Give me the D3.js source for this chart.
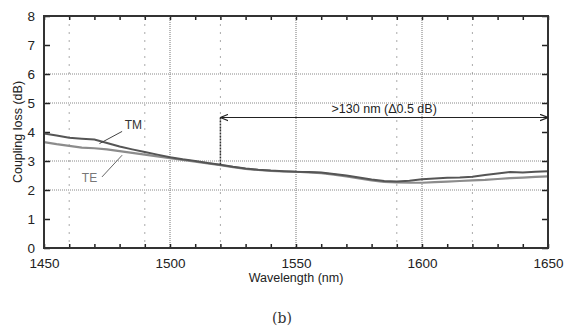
<!DOCTYPE html>
<html>
<head>
<meta charset="utf-8">
<script src="https://cdn.jsdelivr.net/npm/d3@7"></script>
<style>
  body { margin: 0; background: #fff; }
  svg { display: block; font-family: "Liberation Sans", Arial, sans-serif; }
</style>
</head>
<body>
<svg id="chart" width="564" height="329"></svg>
<script>
// wavelength samples (nm)
const wavelengths = [1450,1455,1460,1465,1470,1475,1480,1485,1490,1495,1500,1505,1510,1515,1520,1525,1530,1535,1540,1545,1550,
  1555,1560,1565,1570,1575,1580,1585,1590,1595,1600,1605,1610,1615,1620,1625,1630,1635,1640,1645,1650];
// coupling loss (dB)
const tmLoss = [3.95,3.88,3.80,3.77,3.74,3.62,3.50,3.40,3.31,3.22,3.13,3.06,3.00,2.93,2.87,2.80,2.74,2.70,2.67,2.65,2.63,
  2.62,2.60,2.55,2.50,2.43,2.36,2.31,2.29,2.32,2.37,2.40,2.42,2.43,2.46,2.52,2.57,2.62,2.60,2.63,2.65];
const teLoss = [3.65,3.58,3.52,3.46,3.44,3.40,3.34,3.28,3.22,3.16,3.10,3.04,2.98,2.92,2.86,2.79,2.73,2.69,2.66,2.64,2.63,
  2.61,2.58,2.53,2.47,2.40,2.33,2.28,2.26,2.25,2.25,2.27,2.29,2.31,2.33,2.35,2.38,2.41,2.43,2.45,2.47];
const xTicks = [1450, 1500, 1550, 1600, 1650];
const yTicks = [0, 1, 2, 3, 4, 5, 6, 7, 8];
const xGrid = [1460, 1490, 1500, 1520, 1550, 1590, 1600, 1620];
const yGrid = [2, 3, 5, 6];
const spanStart = 1520, spanEnd = 1650, spanLevel = 4.5;
const spanText = '>130 nm (\u03940.5 dB)';

const margin = { top: 16, right: 16, bottom: 81, left: 44 };
const width = 564, height = 329;
const w = width - margin.left - margin.right;
const h = height - margin.top - margin.bottom;

const svg = d3.select('#chart');
const g = svg.append('g').attr('transform', `translate(${margin.left},${margin.top})`);

const x = d3.scaleLinear().domain([1450, 1650]).range([0, w]);
const y = d3.scaleLinear().domain([0, 8]).range([h, 0]);

// grid
g.append('g').selectAll('line').data(xGrid).join('line')
  .attr('x1', d => x(d)).attr('x2', d => x(d)).attr('y1', 0).attr('y2', h)
  .attr('stroke', d => d % 50 === 0 ? '#777' : '#aaa')
  .attr('stroke-width', 1)
  .attr('stroke-dasharray', d => d % 50 === 0 ? '1,1' : '2,6');
g.append('g').selectAll('line').data(yGrid).join('line')
  .attr('x1', 0).attr('x2', w).attr('y1', d => y(d)).attr('y2', d => y(d))
  .attr('stroke', '#888').attr('stroke-width', 1).attr('stroke-dasharray', '1,1');

// axes with inward ticks
const minorX = d3.range(1450, 1651, 10);
const axBottom = g.append('g').attr('transform', `translate(0,${h})`)
  .call(d3.axisBottom(x).tickValues(minorX).tickSizeInner(-4).tickSizeOuter(0)
    .tickFormat(d => xTicks.includes(d) ? d : ''));
const axTop = g.append('g')
  .call(d3.axisTop(x).tickValues(minorX).tickSizeInner(-4).tickSizeOuter(0).tickFormat(''));
const axLeft = g.append('g')
  .call(d3.axisLeft(y).tickValues(yTicks).tickSizeInner(-6).tickSizeOuter(0));
const axRight = g.append('g').attr('transform', `translate(${w},0)`)
  .call(d3.axisRight(y).tickValues(yTicks).tickSizeInner(-6).tickSizeOuter(0).tickFormat(''));

[axBottom, axTop, axLeft, axRight].forEach(a => {
  a.select('.domain').remove();
  a.selectAll('line').attr('stroke', '#222').attr('stroke-width', 1.5);
  a.selectAll('text').attr('fill', '#222').style('font-size', '13.5px');
});
axBottom.selectAll('text').attr('y', 9).attr('dy', '0.85em');
axLeft.selectAll('text').attr('x', -9).attr('dy', '0.3em');

// series
const line = d3.line().x((d, i) => x(wavelengths[i])).y(d => y(d));
g.append('path').datum(teLoss).attr('d', line)
  .attr('fill', 'none').attr('stroke', '#8c8c8c').attr('stroke-width', 2.2);
g.append('path').datum(tmLoss).attr('d', line)
  .attr('fill', 'none').attr('stroke', '#555').attr('stroke-width', 2);

// frame
g.append('rect').attr('width', w).attr('height', h)
  .attr('fill', 'none').attr('stroke', '#333').attr('stroke-width', 2);

// span annotation
const defs = svg.append('defs');
defs.append('marker').attr('id', 'arr').attr('viewBox', '0 0 10 10')
  .attr('refX', 10).attr('refY', 5).attr('markerWidth', 8).attr('markerHeight', 8)
  .attr('markerUnits', 'userSpaceOnUse')
  .attr('orient', 'auto-start-reverse')
  .append('path').attr('d', 'M0,1 L10,5 L0,9').attr('fill', 'none')
  .attr('stroke', '#222').attr('stroke-width', 1.5);
g.append('line')
  .attr('x1', x(spanStart)).attr('x2', x(spanEnd))
  .attr('y1', y(spanLevel)).attr('y2', y(spanLevel))
  .attr('stroke', '#222').attr('stroke-width', 1.2)
  .attr('marker-start', 'url(#arr)').attr('marker-end', 'url(#arr)');
g.append('line')
  .attr('x1', x(spanStart)).attr('x2', x(spanStart))
  .attr('y1', y(spanLevel)).attr('y2', y(2.86))
  .attr('stroke', '#333').attr('stroke-width', 1.5).attr('stroke-dasharray', '2,1');
g.append('text').attr('x', x(1585)).attr('y', y(spanLevel) - 5)
  .attr('text-anchor', 'middle').attr('fill', '#222').style('font-size', '12.5px')
  .text(spanText);

// series labels with leaders
g.append('text').attr('x', x(1482)).attr('y', y(4.1)).attr('fill', '#333')
  .style('font-size', '12px').text('TM');
g.append('line').attr('x1', x(1481)).attr('y1', y(4.02))
  .attr('x2', x(1472)).attr('y2', y(3.6)).attr('stroke', '#444').attr('stroke-width', 1);
g.append('text').attr('x', x(1465)).attr('y', y(2.27)).attr('fill', '#777')
  .style('font-size', '12px').text('TE');
g.append('line').attr('x1', x(1473)).attr('y1', y(2.45))
  .attr('x2', x(1481)).attr('y2', y(3.2)).attr('stroke', '#666').attr('stroke-width', 1);

// axis titles
svg.append('text').attr('x', margin.left + w / 2).attr('y', 282)
  .attr('text-anchor', 'middle').attr('fill', '#222').style('font-size', '12.5px')
  .text('Wavelength (nm)');
svg.append('text').attr('transform', `translate(22,${margin.top + h / 2}) rotate(-90)`)
  .attr('text-anchor', 'middle').attr('fill', '#222').style('font-size', '12.5px')
  .text('Coupling loss (dB)');
svg.append('text').attr('x', 282).attr('y', 323)
  .attr('text-anchor', 'middle').attr('fill', '#333')
  .style('font-family', '"DejaVu Serif", serif').style('font-size', '14px')
  .text('(b)');
</script>
</body>
</html>
